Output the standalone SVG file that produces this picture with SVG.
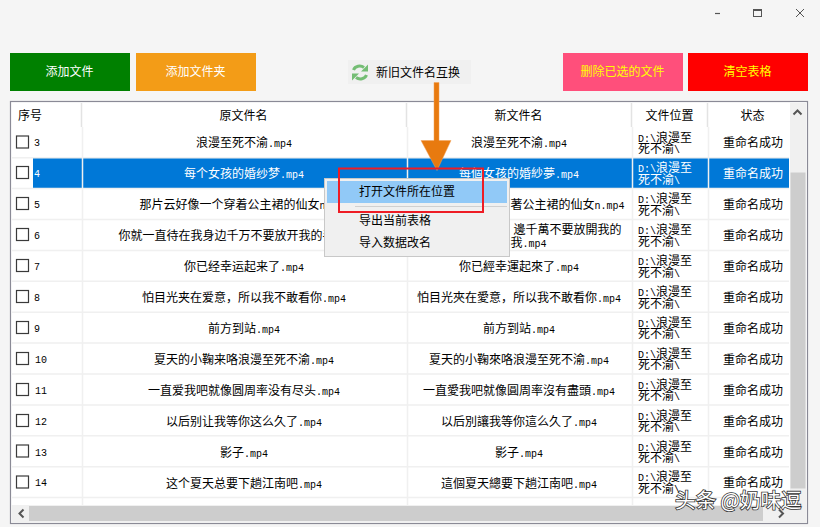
<svg xmlns="http://www.w3.org/2000/svg" width="820" height="527" viewBox="0 0 820 527">
<style>
text{font-family:"Noto Sans CJK SC",sans-serif;font-size:12px;fill:#000}
.m{font-family:"Liberation Mono",monospace;font-size:10px}
.c{text-anchor:middle}
.w,.w tspan{fill:#fff}
.y{fill:#ffff00}
.ln{stroke:#f0f0f0;stroke-width:1.5;fill:none}
.hd{stroke:#e3e3e3;stroke-width:1.5;fill:none}
.cb{fill:#fff;stroke:#3a3a3a;stroke-width:1.2}
.chev{fill:none;stroke:#555;stroke-width:2}
</style>
<defs>
<g id="loc"><text x="638" y="-1"><tspan class="m">D:\</tspan>浪漫至</text><text x="638" y="10.5">死不渝<tspan class="m">\</tspan></text></g>
<g id="locw" class="w"><text x="638" y="-1" class="w"><tspan class="m">D:\</tspan>浪漫至</text><text x="638" y="10.5" class="w">死不渝<tspan class="m">\</tspan></text></g>
</defs>
<rect width="820" height="527" fill="#f5f5f5"/>
<g id="window-controls" fill="none" stroke="#555">
<path d="M715 13.5h5" stroke-width="1.2"/>
<rect x="753.5" y="9.5" width="8" height="7" stroke-width="1"/><path d="M753 10h9" stroke-width="2"/>
<path d="M796 9l8 8M804 9l-8 8" stroke-width="1"/>
</g>
<g id="btn-add-file"><rect x="10" y="53" width="120" height="38" fill="#008000"/><text class="c w" x="69.500" y="76">添加文件</text></g>
<g id="btn-add-folder"><rect x="136" y="53" width="120" height="38" fill="#f39c17"/><text class="c w" x="195.500" y="76">添加文件夹</text></g>
<g id="btn-swap"><rect x="348" y="60" width="123" height="24" fill="#f0f0f0"/>
<g fill="none" stroke="#74bd74" stroke-width="3"><path d="M353.500 70c1.500-4 7-5 10.500-2.500"/><path d="M366.500 75c-1.500 4-7 5-10.500 2.500"/></g>
<path d="M368 64.500v7h-7zM352 80.500v-7h7z" fill="#74bd74"/>
<text x="376" y="76.500">新旧文件名互换</text></g>
<g id="btn-delete"><rect x="563" y="53" width="120" height="38" fill="#ff4f7b"/><text class="c y" x="622.500" y="76">删除已选的文件</text></g>
<g id="btn-clear"><rect x="688" y="53" width="120" height="38" fill="#ff0000"/><text class="c y" x="747.500" y="76">清空表格</text></g>

<g id="table">
<rect x="10.500" y="101.500" width="797" height="422" fill="#fff" stroke="#8a8a96" stroke-width="1.2"/>
<rect x="11.500" y="505" width="795" height="18" fill="#f0f0f0"/>
<g id="header">
<path class="hd" d="M81.500 103v24M406.500 103v24M631.500 103v24M707.500 103v24"/>
<text x="18" y="120">序号</text><text class="c" x="243.500" y="120">原文件名</text><text class="c" x="518.500" y="120">新文件名</text><text class="c" x="669.500" y="120">文件位置</text><text class="c" x="752.500" y="120">状态</text>
</g>
<rect x="33" y="158" width="756" height="30" fill="#0078d7"/>
<g id="grid">
<path class="ln" d="M82.500 127v378M407.500 127v378M632.500 127v378M708.500 127v378"/>
<path class="ln" d="M12 157.700h777M12 188.600h777M12 219.500h777M12 250.400h777M12 281.300h777M12 312.200h777M12 343.100h777M12 374h777M12 404.900h777M12 435.800h777M12 466.700h777M12 497.600h777"/>
</g>
<g id="row-3"><rect class="cb" x="16.500" y="136" width="12" height="12"/><text class="m" x="34" y="146">3</text><text class="c" x="244" y="147">浪漫至死不渝<tspan class="m">.mp4</tspan></text><text class="c" x="519" y="147">浪漫至死不渝<tspan class="m">.mp4</tspan></text><use href="#loc" y="142.500"/><text class="c" x="753" y="147">重命名成功</text></g>
<g id="row-4"><rect class="cb" x="16.500" y="166.500" width="12" height="12"/><text class="m w" x="34" y="177">4</text><text class="c w" x="244" y="178">每个女孩的婚纱梦<tspan class="m">.mp4</tspan></text><text class="c w" x="519" y="178">每個女孩的婚紗夢<tspan class="m">.mp4</tspan></text><use href="#locw" y="173.400"/><text class="c w" x="753" y="178">重命名成功</text></g>
<g id="row-5"><rect class="cb" x="16.500" y="197.500" width="12" height="12"/><text class="m" x="34" y="208">5</text><text x="139.500" y="209">那片云好像一个穿着公主裙的仙女<tspan class="m">n</tspan></text><text x="510.500" y="209">著公主裙的仙女<tspan class="m">n.mp4</tspan></text><use href="#loc" y="204.300"/><text class="c" x="753" y="209">重命名成功</text></g>
<g id="row-6"><rect class="cb" x="16.500" y="228.500" width="12" height="12"/><text class="m" x="34" y="239">6</text><text x="118.500" y="240">你就一直待在我身边千万不要放开我的手</text><text x="513.500" y="234">邊千萬不要放開我的</text><text x="510.500" y="246.500">我<tspan class="m">.mp4</tspan></text><use href="#loc" y="235.200"/><text class="c" x="753" y="240">重命名成功</text></g>
<g id="row-7"><rect class="cb" x="16.500" y="259.500" width="12" height="12"/><text class="m" x="34" y="270">7</text><text class="c" x="244" y="271">你已经幸运起来了<tspan class="m">.mp4</tspan></text><text class="c" x="519" y="271">你已經幸運起來了<tspan class="m">.mp4</tspan></text><use href="#loc" y="266.100"/><text class="c" x="753" y="271">重命名成功</text></g>
<g id="row-8"><rect class="cb" x="16.500" y="290.500" width="12" height="12"/><text class="m" x="34" y="301">8</text><text class="c" x="244" y="302">怕目光夹在爱意&#65292;所以我不敢看你<tspan class="m">.mp4</tspan></text><text class="c" x="519" y="302">怕目光夾在愛意&#65292;所以我不敢看你<tspan class="m">.mp4</tspan></text><use href="#loc" y="297"/><text class="c" x="753" y="302">重命名成功</text></g>
<g id="row-9"><rect class="cb" x="16.500" y="321.500" width="12" height="12"/><text class="m" x="34" y="331.500">9</text><text class="c" x="244" y="333">前方到站<tspan class="m">.mp4</tspan></text><text class="c" x="519" y="333">前方到站<tspan class="m">.mp4</tspan></text><use href="#loc" y="327.900"/><text class="c" x="753" y="333">重命名成功</text></g>
<g id="row-10"><rect class="cb" x="16.500" y="352.500" width="12" height="12"/><text class="m" x="35" y="362.500">10</text><text class="c" x="244" y="364">夏天的小鞠来咯浪漫至死不渝<tspan class="m">.mp4</tspan></text><text class="c" x="519" y="364">夏天的小鞠來咯浪漫至死不渝<tspan class="m">.mp4</tspan></text><use href="#loc" y="358.800"/><text class="c" x="753" y="364">重命名成功</text></g>
<g id="row-11"><rect class="cb" x="16.500" y="383.500" width="12" height="12"/><text class="m" x="35" y="393.500">11</text><text class="c" x="244" y="395">一直爱我吧就像圆周率没有尽头<tspan class="m">.mp4</tspan></text><text class="c" x="519" y="395">一直愛我吧就像圓周率沒有盡頭<tspan class="m">.mp4</tspan></text><use href="#loc" y="389.700"/><text class="c" x="753" y="395">重命名成功</text></g>
<g id="row-12"><rect class="cb" x="16.500" y="414.500" width="12" height="12"/><text class="m" x="35" y="424.500">12</text><text class="c" x="244" y="426">以后别让我等你这么久了<tspan class="m">.mp4</tspan></text><text class="c" x="519" y="426">以后別讓我等你這么久了<tspan class="m">.mp4</tspan></text><use href="#loc" y="420.600"/><text class="c" x="753" y="426">重命名成功</text></g>
<g id="row-13"><rect class="cb" x="16.500" y="445" width="12" height="12"/><text class="m" x="35" y="455.500">13</text><text class="c" x="244" y="457">影子<tspan class="m">.mp4</tspan></text><text class="c" x="519" y="457">影子<tspan class="m">.mp4</tspan></text><use href="#loc" y="451.500"/><text class="c" x="753" y="457">重命名成功</text></g>
<g id="row-14"><rect class="cb" x="16.500" y="476" width="12" height="12"/><text class="m" x="35" y="486">14</text><text class="c" x="244" y="488">这个夏天总要下趟江南吧<tspan class="m">.mp4</tspan></text><text class="c" x="519" y="488">這個夏天總要下趟江南吧<tspan class="m">.mp4</tspan></text><use href="#loc" y="482.400"/><text class="c" x="753" y="487">重命名成功</text></g>
<g id="v-scroll"><rect x="790" y="103" width="16" height="402" fill="#f0f0f0"/><rect x="790.500" y="172.500" width="15" height="316" fill="#cdcdcd"/><path class="chev" d="M793.500 114.500l4-4 4 4"/></g>
<g id="h-scroll"><rect x="29" y="506" width="734" height="15" fill="#cdcdcd"/><path class="chev" d="M23.500 509.500l-4 4 4 4"/><path class="chev" d="M779 509.500l4 4-4 4"/></g>
</g>

<g id="context-menu">
<rect x="324.500" y="178.500" width="185" height="78" fill="#f0f0f0" stroke="#c8c8c8"/>
<rect x="327" y="181" width="180" height="22" fill="#91c9f7"/>
<path d="M355 206.500h152" stroke="#d0d0d0" stroke-width="1"/>
<text x="359" y="196">打开文件所在位置</text><text x="359" y="225">导出当前表格</text><text x="359" y="247">导入数据改名</text>
</g>
<g id="connectors">
<path d="M434 82.500h5v58h12l-14 30-16-30h13z" fill="#e87a0f" stroke="#f2a35a" stroke-width=".5"/>
<rect x="339" y="168.500" width="144" height="43.500" fill="none" stroke="#ee1c25" stroke-width="2"/>
</g>
<text id="watermark" x="675" y="508" style="font-size:20.500px;fill:#fff;stroke:#333;stroke-width:1.6px;paint-order:stroke">头条 @奶味逗</text>
</svg>
